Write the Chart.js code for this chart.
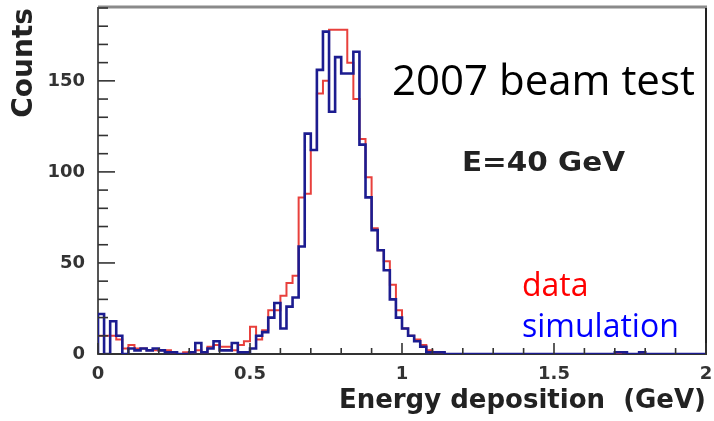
<!DOCTYPE html>
<html>
<head>
<meta charset="utf-8">
<title>Energy deposition</title>
<script src="https://cdn.jsdelivr.net/npm/chart.js@4/dist/chart.umd.min.js"></script>
<style>
  html, body { margin: 0; padding: 0; background: #fff; }
  #wrap { width: 714px; height: 421px; }
</style>
</head>
<body>
<div id="wrap"><canvas id="edepChart" width="714" height="421"></canvas></div>
<script>
// Histogramm: 100 Bins zu 0.02 GeV zwischen 0 und 2 GeV
const binWidth = 0.02;
const xRange = [0, 2];
const yRange = [0, 190];

// Messdaten (rot)
const dataCounts = [
  10, 10, 10, 8, 3, 5, 3, 3, 2, 2,
  2, 2, 1, 0, 1, 1, 2, 1, 4, 5,
  4, 4, 2, 5, 7, 15, 8, 13, 24, 24,
  32, 39, 43, 86, 88, 112, 143, 150, 178, 178,
  178, 160, 140, 118, 97, 69, 57, 51, 38, 24,
  14, 10, 8, 5, 2, 1, 1, 0, 0, 0,
  0, 0, 0, 0, 0, 0, 0, 0, 0, 0,
  0, 0, 0, 0, 0, 0, 0, 0, 0, 0,
  0, 0, 0, 0, 0, 0, 1, 0, 0, 1,
  0, 0, 0, 0, 0, 0, 0, 0, 0, 0
];

// Simulation (blau)
const simCounts = [
  22, 0, 18, 10, 0, 3, 2, 3, 2, 3,
  2, 1, 1, 0, 0, 1, 6, 1, 3, 7,
  2, 2, 6, 1, 1, 3, 10, 12, 20, 28,
  14, 26, 31, 59, 121, 112, 156, 177, 133, 163,
  154, 154, 166, 115, 86, 68, 57, 46, 30, 20,
  14, 10, 7, 4, 1, 1, 1, 0, 0, 0,
  0, 0, 0, 0, 0, 0, 0, 0, 0, 0,
  0, 0, 0, 0, 0, 0, 0, 0, 0, 0,
  0, 0, 0, 0, 0, 1, 1, 0, 0, 1,
  0, 0, 0, 0, 0, 0, 0, 0, 0, 0
];

const xMajor = [0, 0.5, 1, 1.5, 2];
const yMajor = [0, 50, 100, 150];

// Stufenlinie: linke Binkanten + Abschluss am rechten Rand
function toSteps(counts) {
  const pts = [{ x: 0, y: 0 }];
  counts.forEach((c, i) => pts.push({ x: i * binWidth, y: c }));
  const end = counts.length * binWidth;
  pts.push({ x: end, y: counts[counts.length - 1] });
  pts.push({ x: end, y: 0 });
  return pts;
}

const isMajor = (v, list) => list.some(m => Math.abs(m - v) < 1e-6);

const axisFont = { family: 'DejaVu Sans', weight: 'bold' };

// Achsen ohne Zusatzrand fuer ueberstehende Labels
function fixX(s) {
  s.height = 67;
  s.paddingLeft = 0;
  s.paddingRight = 0;
}
function fixY(s) {
  s.width = 98;
  s.paddingTop = 0;
  s.paddingBottom = 0;
}

// Rahmen, innere Tickstriche und Beschriftungen
const frameAndNotes = {
  id: 'frameAndNotes',
  afterDraw(chart) {
    const { ctx, chartArea: a, scales: { x, y } } = chart;
    ctx.save();

    // oberer und rechter Rand
    ctx.strokeStyle = '#8a8a8a';
    ctx.lineWidth = 3;
    ctx.beginPath();
    ctx.moveTo(a.left, a.top - 1);
    ctx.lineTo(a.right + 1, a.top - 1);
    ctx.stroke();
    ctx.strokeStyle = '#222';
    ctx.lineWidth = 2;
    ctx.beginPath();
    ctx.moveTo(a.right, a.top);
    ctx.lineTo(a.right, a.bottom);
    ctx.stroke();

    // Ticks nach innen
    ctx.strokeStyle = '#333';
    ctx.lineWidth = 1.6;
    x.ticks.forEach(t => {
      const px = x.getPixelForValue(t.value);
      const len = isMajor(t.value, xMajor) ? 11 : 6;
      ctx.beginPath();
      ctx.moveTo(px, a.bottom);
      ctx.lineTo(px, a.bottom - len);
      ctx.stroke();
    });
    y.ticks.forEach(t => {
      const py = y.getPixelForValue(t.value);
      const len = isMajor(t.value, yMajor) ? 17 : 10;
      ctx.beginPath();
      ctx.moveTo(a.left, py);
      ctx.lineTo(a.left + len, py);
      ctx.stroke();
    });

    // Texte im Plot
    ctx.textBaseline = 'alphabetic';
    ctx.textAlign = 'left';
    ctx.fillStyle = '#000';
    ctx.font = '42px "Open Sans"';
    ctx.fillText('2007 beam test', 392, 95);

    ctx.font = 'bold 27px "DejaVu Sans"';
    ctx.fillStyle = '#222';
    const label = 'E=40 GeV';
    const w = ctx.measureText(label).width;
    ctx.save();
    ctx.translate(462, 171);
    ctx.scale(163 / w, 1);
    ctx.fillText(label, 0, 0);
    ctx.restore();

    ctx.font = '32px "Open Sans"';
    ctx.fillStyle = '#ff0000';
    ctx.fillText('data', 522, 296);
    ctx.fillStyle = '#0000ff';
    ctx.fillText('simulation', 522, 337);

    ctx.restore();
  }
};

new Chart(document.getElementById('edepChart'), {
  type: 'line',
  data: {
    datasets: [
      {
        label: 'simulation',
        data: toSteps(simCounts),
        borderColor: '#1c1c90',
        borderWidth: 2.6,
        stepped: 'before',
        pointRadius: 0,
        fill: false,
        order: 0
      },
      {
        label: 'data',
        data: toSteps(dataCounts),
        borderColor: '#e8403c',
        borderWidth: 2,
        stepped: 'before',
        pointRadius: 0,
        fill: false,
        order: 1
      }
    ]
  },
  options: {
    responsive: false,
    animation: false,
    layout: { padding: { top: 8, right: 8, left: 0, bottom: 0 } },
    plugins: { legend: { display: false }, tooltip: { enabled: false } },
    scales: {
      x: {
        type: 'linear',
        min: xRange[0],
        max: xRange[1],
        afterFit: fixX,
        grid: { display: false, drawTicks: false },
        border: { display: true, color: '#333', width: 2 },
        ticks: {
          stepSize: 0.1,
          autoSkip: false,
          maxRotation: 0,
          padding: 10,
          color: '#333',
          font: { ...axisFont, size: 18 },
          callback: v => isMajor(v, xMajor) ? String(Math.round(v * 10) / 10) : ''
        },
        title: {
          display: true,
          text: 'Energy deposition  (GeV)',
          align: 'end',
          color: '#222',
          font: { ...axisFont, size: 26 },
          padding: { top: 4, bottom: 4 }
        }
      },
      y: {
        min: yRange[0],
        max: yRange[1],
        afterFit: fixY,
        grid: { display: false, drawTicks: false },
        border: { display: true, color: '#555', width: 2 },
        ticks: {
          stepSize: 10,
          autoSkip: false,
          padding: 13,
          color: '#333',
          font: { ...axisFont, size: 18 },
          callback: v => isMajor(v, yMajor) ? String(v) : ''
        },
        title: {
          display: true,
          text: 'Counts',
          align: 'end',
          color: '#222',
          font: { ...axisFont, size: 28 },
          padding: { top: 8, bottom: 0 }
        }
      }
    }
  },
  plugins: [frameAndNotes]
});
</script>
</body>
</html>
